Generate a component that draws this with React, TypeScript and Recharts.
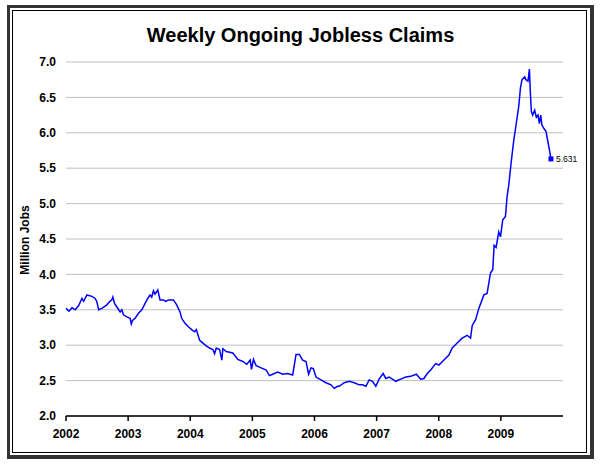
import React from 'react';
import {
  LineChart,
  Line,
  XAxis,
  YAxis,
  CartesianGrid,
  ReferenceDot
} from 'recharts';

// week position (decimal year)
const weeks = [
  2002.0, 2002.048, 2002.096, 2002.149, 2002.204, 2002.257, 2002.284, 2002.337, 2002.417, 2002.47,
  2002.498, 2002.525, 2002.578, 2002.658, 2002.706, 2002.738, 2002.754, 2002.782, 2002.819, 2002.872,
  2002.899, 2002.926, 2002.979, 2003.032, 2003.051, 2003.071, 2003.112, 2003.167, 2003.22, 2003.273,
  2003.316, 2003.353, 2003.38, 2003.408, 2003.433, 2003.477, 2003.514, 2003.568, 2003.605, 2003.648,
  2003.729, 2003.782, 2003.835, 2003.862, 2003.915, 2003.969, 2004.022, 2004.071, 2004.098, 2004.151,
  2004.204, 2004.258, 2004.311, 2004.364, 2004.392, 2004.419, 2004.472, 2004.509, 2004.525, 2004.58,
  2004.685, 2004.766, 2004.846, 2004.91, 2004.965, 2004.986, 2005.018, 2005.061, 2005.141, 2005.222,
  2005.274, 2005.327, 2005.408, 2005.488, 2005.568, 2005.649, 2005.703, 2005.756, 2005.809, 2005.864,
  2005.905, 2005.944, 2005.981, 2006.024, 2006.104, 2006.185, 2006.265, 2006.318, 2006.371, 2006.398,
  2006.478, 2006.559, 2006.639, 2006.719, 2006.772, 2006.827, 2006.88, 2006.933, 2006.987, 2007.04,
  2007.104, 2007.148, 2007.201, 2007.254, 2007.308, 2007.388, 2007.469, 2007.549, 2007.639, 2007.709,
  2007.762, 2007.815, 2007.87, 2007.95, 2008.003, 2008.083, 2008.164, 2008.217, 2008.297, 2008.377,
  2008.458, 2008.512, 2008.539, 2008.593, 2008.645, 2008.726, 2008.778, 2008.833, 2008.87, 2008.891,
  2008.923, 2008.966, 2008.994, 2009.03, 2009.074, 2009.1, 2009.127, 2009.164, 2009.207, 2009.244,
  2009.287, 2009.315, 2009.34, 2009.384, 2009.404, 2009.437, 2009.459, 2009.475, 2009.491, 2009.512,
  2009.544, 2009.571, 2009.597, 2009.62, 2009.641, 2009.661, 2009.693, 2009.726, 2009.758, 2009.785,
  2009.806
];

// ongoing claims, millions
const claims = [
  3.52, 3.48, 3.53, 3.50, 3.56, 3.66, 3.62, 3.71, 3.69, 3.66,
  3.61, 3.50, 3.52, 3.57, 3.62, 3.64, 3.68, 3.59, 3.54, 3.47,
  3.50, 3.43, 3.40, 3.38, 3.30, 3.35, 3.38, 3.45, 3.50, 3.59,
  3.66, 3.71, 3.68, 3.77, 3.72, 3.78, 3.64, 3.64, 3.62, 3.64,
  3.64, 3.57, 3.47, 3.38, 3.31, 3.26, 3.22, 3.19, 3.22, 3.07,
  3.03, 2.99, 2.96, 2.94, 2.88, 2.96, 2.94, 2.79, 2.95, 2.91,
  2.89, 2.80, 2.77, 2.73, 2.79, 2.66, 2.80, 2.71, 2.68, 2.65,
  2.57, 2.59, 2.62, 2.59, 2.60, 2.58, 2.87, 2.87, 2.79, 2.77,
  2.59, 2.68, 2.67, 2.55, 2.51, 2.47, 2.44, 2.39, 2.42, 2.42,
  2.47, 2.49, 2.47, 2.44, 2.44, 2.42, 2.51, 2.49, 2.42, 2.52,
  2.60, 2.53, 2.55, 2.52, 2.49, 2.52, 2.55, 2.56, 2.59, 2.52,
  2.53, 2.60, 2.65, 2.74, 2.72, 2.79, 2.86, 2.96, 3.03, 3.10,
  3.14, 3.10, 3.28, 3.36, 3.52, 3.71, 3.73, 4.02, 4.07, 4.41,
  4.38, 4.60, 4.53, 4.77, 4.82, 5.10, 5.26, 5.57, 5.89, 6.11,
  6.37, 6.63, 6.75, 6.79, 6.75, 6.73, 6.90, 6.56, 6.30, 6.25,
  6.32, 6.22, 6.25, 6.13, 6.25, 6.11, 6.06, 6.02, 5.87, 5.74,
  5.631
];

const yearTicks = [2002, 2003, 2004, 2005, 2006, 2007, 2008, 2009];
const valueTicks = [2.0, 2.5, 3.0, 3.5, 4.0, 4.5, 5.0, 5.5, 6.0, 6.5, 7.0];

const font = '"Liberation Sans", Arial, sans-serif';

const App: React.FC = () => {
  const data = weeks.map((t, i) => ({ t, v: claims[i] }));
  const last = data[data.length - 1];

  return (
    <div style={{ position: 'absolute', left: 0, top: 0, width: 601, height: 467, background: '#fff', fontFamily: font }}>
      {/* outer frame */}
      <div style={{
        position: 'absolute', left: 7, top: 5, width: 580, height: 447,
        borderTop: '3px solid #333', borderLeft: '3px solid #333',
        borderRight: '4px solid #333', borderBottom: '4px solid #333'
      }} />
      <div style={{ position: 'absolute', left: 12, top: 10, width: 573, height: 441, border: '1px solid #000' }} />

      <div style={{
        position: 'absolute', left: 0, width: 601, top: 24, textAlign: 'center',
        fontSize: 20, fontWeight: 'bold', color: '#000'
      }}>
        Weekly Ongoing Jobless Claims
      </div>

      <div style={{
        position: 'absolute', left: 25, top: 240, transform: 'translate(-50%, -50%) rotate(-90deg)',
        fontSize: 12, fontWeight: 'bold', whiteSpace: 'nowrap', color: '#000'
      }}>
        Million Jobs
      </div>

      <div style={{ position: 'absolute', left: 0, top: 0 }}>
        <LineChart width={601} height={467} data={data} margin={{ top: 62, right: 38, left: 26, bottom: 21 }}>
          <CartesianGrid vertical={false} stroke="#c0c0c0" />
          <XAxis
            dataKey="t"
            type="number"
            domain={[2002, 2010]}
            ticks={yearTicks}
            tickSize={5}
            tickMargin={8}
            stroke="#000"
            strokeWidth={1.5}
            tick={{ fill: '#000', fontSize: 12, fontWeight: 'bold', fontFamily: font }}
            interval={0}
          />
          <YAxis
            type="number"
            domain={[2, 7]}
            ticks={valueTicks}
            width={40}
            axisLine={false}
            tickLine={false}
            tickSize={6}
            tickMargin={4}
            tickFormatter={(v: number) => v.toFixed(1)}
            tick={{ fill: '#000', fontSize: 12, fontWeight: 'bold', fontFamily: font }}
            interval={0}
          />
          <Line
            type="linear"
            dataKey="v"
            stroke="#0000ff"
            strokeWidth={1.5}
            dot={false}
            isAnimationActive={false}
          />
          <ReferenceDot
            x={last.t}
            y={last.v}
            r={3}
            shape={(p: any) => (
              <g>
                <rect x={p.cx - 2.5} y={p.cy - 2.5} width={5} height={5} fill="#0000ff" />
                <text x={p.cx + 5} y={p.cy + 3} fontSize={8.5} fill="#000" fontFamily={font}>
                  {last.v.toFixed(3)}
                </text>
              </g>
            )}
          />
        </LineChart>
      </div>
    </div>
  );
};

export default App;
